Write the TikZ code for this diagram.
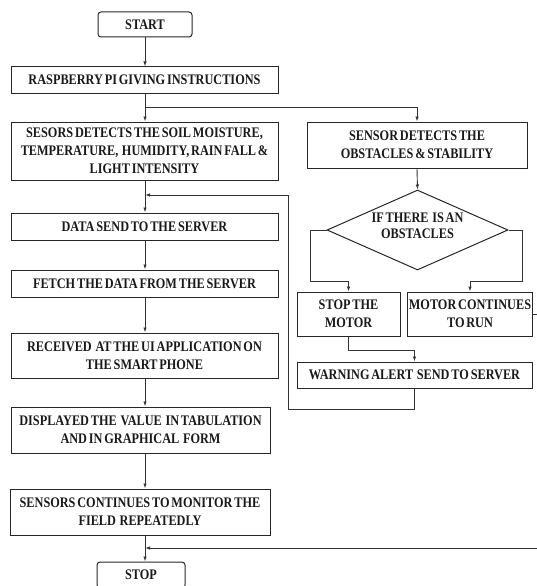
\documentclass[tikz,border=0pt]{standalone}
\usepackage{fontspec}
\setmainfont{Liberation Serif}[FakeStretch=0.84,WordSpace=0.6]
\usetikzlibrary{shapes.geometric,arrows.meta,calc}
\begin{document}
\begin{tikzpicture}[x=1pt,y=-1pt,
  every node/.style={font=\bfseries\fontsize{14.6}{18}\selectfont, text=black!90, align=center},
  box/.style={draw=black!85, line width=1pt, rectangle, inner sep=1pt},
  term/.style={box, rounded corners=3pt},
  dec/.style={draw=black!85, line width=1pt, diamond, inner sep=0pt},
  con/.style={draw=black!80, line width=0.9pt},
  arr/.style={con, -{Latex[length=5pt,width=3.5pt]}}]
\useasboundingbox (0,0) rectangle (537,586);
% main column
\node[term, minimum width=94pt, minimum height=25pt] (start) at (145,24.5) {START};
\node[box, minimum width=267pt, minimum height=26pt] (rasp) at (144.5,80) {RASPBERRY PI GIVING INSTRUCTIONS};
\node[box, minimum width=267pt, minimum height=58pt] (ses) at (144.5,151) {SESORS DETECTS THE SOIL MOISTURE,\\ TEMPERATURE,\ \ HUMIDITY, RAIN FALL \&\\ LIGHT INTENSITY};
\node[box, minimum width=267pt, minimum height=27pt] (data) at (144.5,226.5) {DATA SEND TO THE SERVER};
\node[box, minimum width=267pt, minimum height=27pt] (fetch) at (144.5,283.5) {FETCH THE\ DATA FROM THE SERVER};
\node[box, minimum width=267pt, minimum height=45pt] (recv) at (144.5,355.5) {RECEIVED\ \ AT THE UI APPLICATION ON\\ THE SMART PHONE};
\node[box, minimum width=259pt, minimum height=46pt] (disp) at (140.5,430) {DISPLAYED THE\ \ VALUE\ \ IN TABULATION\\ AND IN GRAPHICAL\ \ FORM};
\node[box, minimum width=260pt, minimum height=46pt] (mon) at (140,512) {SENSORS CONTINUES TO MONITOR THE\\ FIELD\ \ REPEATEDLY};
\node[term, minimum width=88pt, minimum height=26pt] (stop) at (141,575) {STOP};
% right column
\node[box, minimum width=220pt, minimum height=46pt] (sens) at (417,145) {SENSOR DETECTS THE\\ OBSTACLES \& STABILITY};
\node[dec, minimum width=181pt, minimum height=80pt] (dia) at (417.5,230) {\makebox[0pt]{\smash{\begin{tabular}{@{}c@{}}IF THERE\ \ IS AN\\[-2pt] OBSTACLES\end{tabular}}}};
\node[box, minimum width=103pt, minimum height=44pt] (stopm) at (348.5,314) {STOP THE\\ MOTOR};
\node[box, minimum width=124pt, minimum height=44pt] (motc) at (470,314) {MOTOR CONTINUES\\ TO RUN};
\node[box, minimum width=235pt, minimum height=26pt] (warn) at (414.5,375) {WARNING ALERT\ \ SEND TO SERVER};
\coordinate (j1) at (145,195);
\coordinate (j2) at (145,548);
\coordinate (b1) at (145,107);
% main connectors
\draw[arr] (start.south) -- (start.south |- rasp.north);
\draw[arr] (rasp.south -| b1) -- (b1 |- ses.north);
\draw[arr] (ses.south -| j1) -- (j1 |- data.north);
\draw[arr] (data.south -| j1) -- (j1 |- fetch.north);
\draw[arr] (fetch.south -| j1) -- (j1 |- recv.north);
\draw[arr] (recv.south -| j1) -- (j1 |- disp.north);
\draw[arr] (disp.south -| j1) -- (j1 |- mon.north);
\draw[arr] (mon.south -| j1) -- (j1 |- stop.north);
% branch to right column
\draw[arr] (b1) -| (sens.north);
\draw[arr] (sens.south) -- (dia.north);
\draw[arr] (dia.west) -- ++(-16,0) |- ($(stopm.north)+(0,-10)$) -- (stopm.north);
\draw[arr] (dia.east) -- ++(14,0) |- ($(motc.north)+(0,-10)$) -- (motc.north);
\draw[arr] (stopm.south) -- ++(0,14) -| (warn.north);
% loop back
\draw[arr] (warn.south) -- ++(0,21) -| (288,195) -- (j1);
\draw[arr] (motc.east) -- (560,314) -- (560,548) -- (j2);
\end{tikzpicture}
\end{document}
